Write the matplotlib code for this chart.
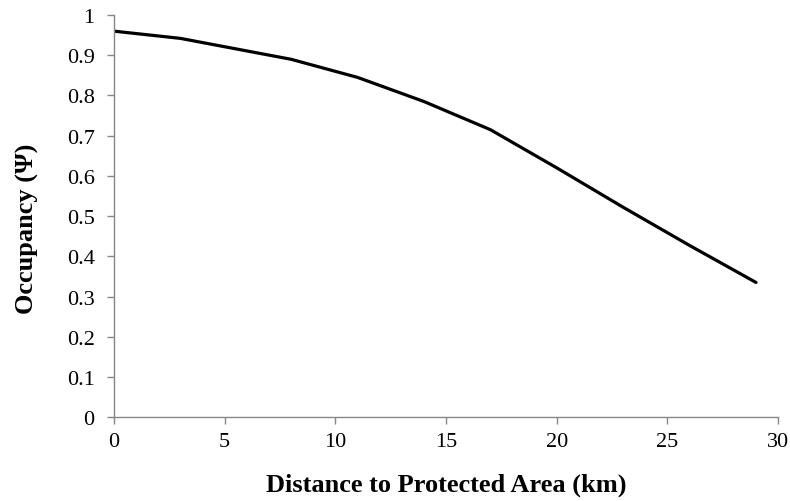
import matplotlib
matplotlib.use("Agg")
import matplotlib.pyplot as plt

plt.rcParams['font.family'] = ['Liberation Serif', 'DejaVu Serif']

distance = [0, 3, 8, 11, 14, 17, 20, 23, 26, 29]
occupancy = [0.96, 0.942, 0.89, 0.845, 0.785, 0.715, 0.62, 0.522, 0.427, 0.335]
xticks = [0, 5, 10, 15, 20, 25, 30]
yticks = [0, 0.1, 0.2, 0.3, 0.4, 0.5, 0.6, 0.7, 0.8, 0.9, 1]
ytick_labels = ['0', '0.1', '0.2', '0.3', '0.4', '0.5', '0.6', '0.7', '0.8', '0.9', '1']

fig = plt.figure(figsize=(7.9, 5.02), dpi=100)
ax = fig.add_axes([0.1443, 0.167, 0.8407, 0.801])
ax.plot(distance, occupancy, color='black', linewidth=2.3, solid_capstyle='round')
ax.set_xlim(0, 30)
ax.set_ylim(0, 1)
ax.set_xticks(xticks)
ax.set_xticklabels([str(v) for v in xticks])
ax.set_yticks(yticks)
ax.set_yticklabels(ytick_labels)
for s in ['top', 'right']:
    ax.spines[s].set_visible(False)
for s in ['left', 'bottom']:
    ax.spines[s].set_color('#868686')
    ax.spines[s].set_linewidth(1.0)
ax.tick_params(axis='both', direction='out', length=5, width=1, color='#868686',
               labelsize=16, labelcolor='black')
ax.tick_params(axis='y', pad=9)
ax.tick_params(axis='x', pad=6)
ax.set_xlabel('Distance to Protected Area (km)', fontsize=19, fontweight='bold', labelpad=15)
ax.set_ylabel('Occupancy (Ψ)', fontsize=19, fontweight='bold')
ax.yaxis.set_label_coords(-0.113, 0.47)
fig.savefig('out.png', dpi=100)
